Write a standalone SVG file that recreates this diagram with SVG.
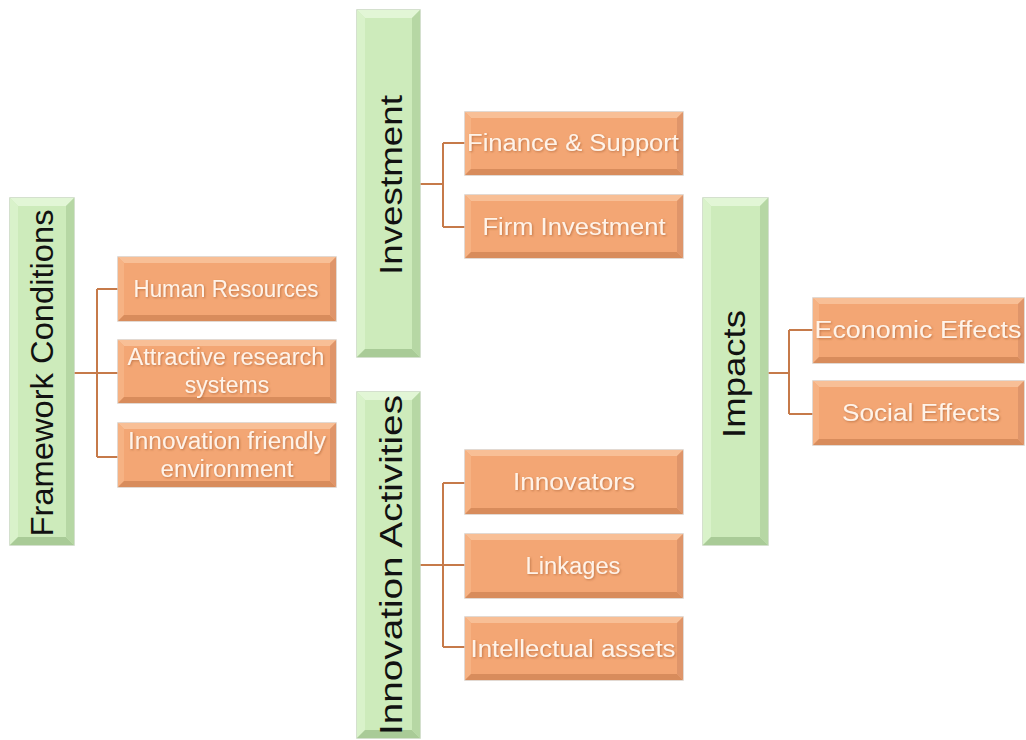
<svg xmlns="http://www.w3.org/2000/svg" width="1026" height="740" viewBox="0 0 1026 740">
<defs>
<style>
.ob{fill:#f3a674;stroke:#d9cdc4;stroke-width:1.5}
.ot{fill:#f8bf96}
.ol{fill:#f6b283}
.obt{fill:#d88c5c}
.or{fill:#df956a}
.gb{fill:#cdebbb;stroke:#c6d6be;stroke-width:1.5}
.gt{fill:#e2f6d6}
.gl{fill:#d9f2ca}
.gbt{fill:#a9cb97}
.gr{fill:#b6d7a4}
.lbl{font-family:"Liberation Sans",Arial,sans-serif;font-size:23px;fill:#fff3e8;text-anchor:middle;filter:url(#sh)}
.vt{font-family:"Liberation Sans",Arial,sans-serif;font-size:32px;fill:#111;text-anchor:middle}
.cn{fill:none;stroke:#c67a4a;stroke-width:2}
</style>
<filter id="sh" x="-10%" y="-30%" width="120%" height="160%">
<feDropShadow dx="1" dy="1" stdDeviation="0.8" flood-color="#a0582c" flood-opacity="0.6"/>
</filter>
</defs>
<rect width="1026" height="740" fill="#ffffff"/>

<g id="connectors">
<path class="cn" d="M74,373 H97 M97,289 V457 M97,289 H118 M97,373 H118 M97,457 H118"/>
<path class="cn" d="M420,184 H443 M443,143 V227 M443,143 H465 M443,227 H465"/>
<path class="cn" d="M420,565 H443 M443,483 V647 M443,483 H465 M443,565 H465 M443,647 H465"/>
<path class="cn" d="M768,373 H789 M789,330 V414 M789,330 H813 M789,414 H813"/>
</g>

<g id="framework-conditions">
<rect class="gb" x="10" y="198" width="64" height="347"/>
<polygon class="gt" points="10,198 74,198 66,206 18,206"/>
<polygon class="gl" points="10,198 18,206 18,537 10,545"/>
<polygon class="gbt" points="10,545 18,537 66,537 74,545"/>
<polygon class="gr" points="74,198 74,545 66,537 66,206"/>
<text class="vt" transform="translate(53,373) rotate(-90)" textLength="327" lengthAdjust="spacingAndGlyphs">Framework Conditions</text>
</g>

<g id="investment">
<rect class="gb" x="357" y="10" width="63" height="347"/>
<polygon class="gt" points="357,10 420,10 412,18 365,18"/>
<polygon class="gl" points="357,10 365,18 365,349 357,357"/>
<polygon class="gbt" points="357,357 365,349 412,349 420,357"/>
<polygon class="gr" points="420,10 420,357 412,349 412,18"/>
<text class="vt" transform="translate(402,185) rotate(-90)" textLength="180" lengthAdjust="spacingAndGlyphs">Investment</text>
</g>

<g id="innovation-activities">
<rect class="gb" x="357" y="392" width="63" height="346"/>
<polygon class="gt" points="357,392 420,392 412,400 365,400"/>
<polygon class="gl" points="357,392 365,400 365,730 357,738"/>
<polygon class="gbt" points="357,738 365,730 412,730 420,738"/>
<polygon class="gr" points="420,392 420,738 412,730 412,400"/>
<text class="vt" transform="translate(402,565) rotate(-90)" textLength="340" lengthAdjust="spacingAndGlyphs">Innovation Activities</text>
</g>

<g id="impacts">
<rect class="gb" x="703" y="198" width="65" height="347"/>
<polygon class="gt" points="703,198 768,198 760,206 711,206"/>
<polygon class="gl" points="703,198 711,206 711,537 703,545"/>
<polygon class="gbt" points="703,545 711,537 760,537 768,545"/>
<polygon class="gr" points="768,198 768,545 760,537 760,206"/>
<text class="vt" transform="translate(745,374) rotate(-90)" textLength="128" lengthAdjust="spacingAndGlyphs">Impacts</text>
</g>

<g id="human-resources">
<rect class="ob" x="118" y="257" width="218" height="64"/>
<polygon class="ot" points="118,257 336,257 330,263 124,263"/>
<polygon class="ol" points="118,257 124,263 124,315 118,321"/>
<polygon class="obt" points="118,321 124,315 330,315 336,321"/>
<polygon class="or" points="336,257 336,321 330,315 330,263"/>
<text class="lbl" x="226" y="297" textLength="185" lengthAdjust="spacingAndGlyphs">Human Resources</text>
</g>

<g id="attractive-research-systems">
<rect class="ob" x="118" y="340" width="218" height="63"/>
<polygon class="ot" points="118,340 336,340 330,346 124,346"/>
<polygon class="ol" points="118,340 124,346 124,397 118,403"/>
<polygon class="obt" points="118,403 124,397 330,397 336,403"/>
<polygon class="or" points="336,340 336,403 330,397 330,346"/>
<text class="lbl" x="226" y="365" textLength="197" lengthAdjust="spacingAndGlyphs">Attractive research</text>
<text class="lbl" x="227" y="393">systems</text>
</g>

<g id="innovation-friendly-environment">
<rect class="ob" x="118" y="423" width="218" height="64"/>
<polygon class="ot" points="118,423 336,423 330,429 124,429"/>
<polygon class="ol" points="118,423 124,429 124,481 118,487"/>
<polygon class="obt" points="118,487 124,481 330,481 336,487"/>
<polygon class="or" points="336,423 336,487 330,481 330,429"/>
<text class="lbl" x="227" y="449" textLength="198" lengthAdjust="spacingAndGlyphs">Innovation friendly</text>
<text class="lbl" x="227" y="477" textLength="133" lengthAdjust="spacingAndGlyphs">environment</text>
</g>

<g id="finance-support">
<rect class="ob" x="465" y="112" width="218" height="63"/>
<polygon class="ot" points="465,112 683,112 677,118 471,118"/>
<polygon class="ol" points="465,112 471,118 471,169 465,175"/>
<polygon class="obt" points="465,175 471,169 677,169 683,175"/>
<polygon class="or" points="683,112 683,175 677,169 677,118"/>
<text class="lbl" x="573" y="151" textLength="212" lengthAdjust="spacingAndGlyphs">Finance &amp; Support</text>
</g>

<g id="firm-investment">
<rect class="ob" x="465" y="195" width="218" height="63"/>
<polygon class="ot" points="465,195 683,195 677,201 471,201"/>
<polygon class="ol" points="465,195 471,201 471,252 465,258"/>
<polygon class="obt" points="465,258 471,252 677,252 683,258"/>
<polygon class="or" points="683,195 683,258 677,252 677,201"/>
<text class="lbl" x="574" y="235" textLength="183" lengthAdjust="spacingAndGlyphs">Firm Investment</text>
</g>

<g id="innovators">
<rect class="ob" x="465" y="450" width="218" height="64"/>
<polygon class="ot" points="465,450 683,450 677,456 471,456"/>
<polygon class="ol" points="465,450 471,456 471,508 465,514"/>
<polygon class="obt" points="465,514 471,508 677,508 683,514"/>
<polygon class="or" points="683,450 683,514 677,508 677,456"/>
<text class="lbl" x="574" y="490" textLength="122" lengthAdjust="spacingAndGlyphs">Innovators</text>
</g>

<g id="linkages">
<rect class="ob" x="465" y="534" width="218" height="64"/>
<polygon class="ot" points="465,534 683,534 677,540 471,540"/>
<polygon class="ol" points="465,534 471,540 471,592 465,598"/>
<polygon class="obt" points="465,598 471,592 677,592 683,598"/>
<polygon class="or" points="683,534 683,598 677,592 677,540"/>
<text class="lbl" x="573" y="574" textLength="95" lengthAdjust="spacingAndGlyphs">Linkages</text>
</g>

<g id="intellectual-assets">
<rect class="ob" x="465" y="617" width="218" height="63"/>
<polygon class="ot" points="465,617 683,617 677,623 471,623"/>
<polygon class="ol" points="465,617 471,623 471,674 465,680"/>
<polygon class="obt" points="465,680 471,674 677,674 683,680"/>
<polygon class="or" points="683,617 683,680 677,674 677,623"/>
<text class="lbl" x="573" y="657" textLength="205" lengthAdjust="spacingAndGlyphs">Intellectual assets</text>
</g>

<g id="economic-effects">
<rect class="ob" x="813" y="298" width="211" height="65"/>
<polygon class="ot" points="813,298 1024,298 1018,304 819,304"/>
<polygon class="ol" points="813,298 819,304 819,357 813,363"/>
<polygon class="obt" points="813,363 819,357 1018,357 1024,363"/>
<polygon class="or" points="1024,298 1024,363 1018,357 1018,304"/>
<text class="lbl" x="918" y="338" textLength="207" lengthAdjust="spacingAndGlyphs">Economic Effects</text>
</g>

<g id="social-effects">
<rect class="ob" x="813" y="381" width="211" height="64"/>
<polygon class="ot" points="813,381 1024,381 1018,387 819,387"/>
<polygon class="ol" points="813,381 819,387 819,439 813,445"/>
<polygon class="obt" points="813,445 819,439 1018,439 1024,445"/>
<polygon class="or" points="1024,381 1024,445 1018,439 1018,387"/>
<text class="lbl" x="921" y="421" textLength="158" lengthAdjust="spacingAndGlyphs">Social Effects</text>
</g>
</svg>
